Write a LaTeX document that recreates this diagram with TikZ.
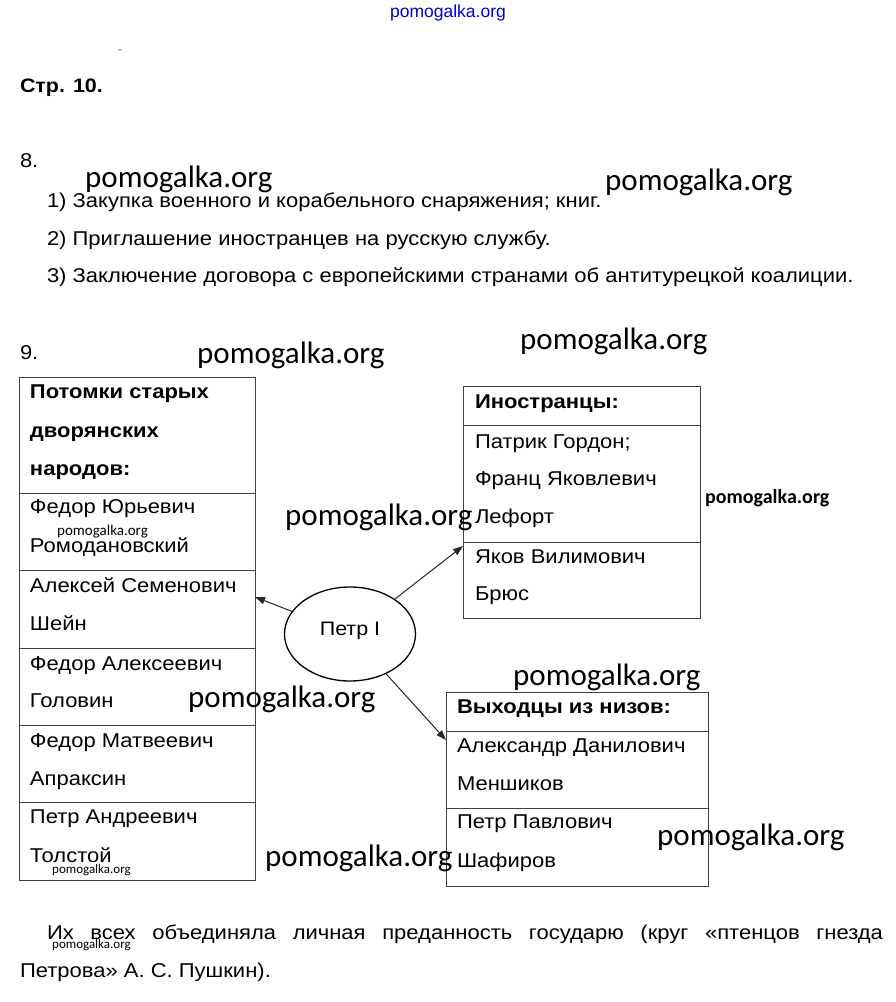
\documentclass[tikz,border=0pt]{standalone}
\usepackage{fontspec}
\setmainfont{Liberation Sans}[FakeStretch=1.1]
\newfontfamily\wmfont{Carlito}
\newfontfamily\topfont{Liberation Sans}
\usetikzlibrary{arrows.meta,shapes.geometric}
\begin{document}
\begin{tikzpicture}[x=1pt,y=-1pt,
  txt/.style={anchor=base west, inner sep=0pt, outer sep=0pt, font=\fontsize{20}{22}\selectfont},
  boxtxt/.style={anchor=base west, inner sep=0pt, outer sep=0pt, font=\fontsize{20}{22}\selectfont},
  boxhead/.style={boxtxt, font=\fontsize{20}{22}\selectfont\bfseries},
  cell/.style={draw=black!75, line width=0.9pt, inner sep=0pt, outer sep=0pt, anchor=north west, fill=none},
  wmbig/.style={anchor=base west, inner sep=0pt, font=\wmfont\fontsize{31}{33}\selectfont},
  wmsmall/.style={anchor=base west, inner sep=0pt, font=\wmfont\fontsize{15}{17}\selectfont},
  arr/.style={-{Triangle[length=10pt,width=7pt]}, line width=1pt, black!85},
]
\fill[white] (0,0) rectangle (895,1002);
\useasboundingbox (0,0) rectangle (895,1002);

% header
\node[anchor=base, inner sep=0pt, text=blue!80!black, font=\topfont\fontsize{17.5}{19}\selectfont] (wmtop) at (448,17) {pomogalka.org};
\node[anchor=base, inner sep=0pt, text=black!60, font=\fontsize{12}{14}\selectfont] (dash) at (120,53) {-};
\node[txt, font=\fontsize{19.5}{21}\selectfont\bfseries] (page) at (20,92) {Стр. 10.};

% task 8
\node[txt] (n8) at (20,167) {8.};
\node[txt] (l1) at (47,207) {1) Закупка военного и корабельного снаряжения; книг.};
\node[txt] (l2) at (47,245) {2) Приглашение иностранцев на русскую службу.};
\node[txt] (l3) at (47,282) {3) Заключение договора с европейскими странами об антитурецкой коалиции.};

% task 9
\node[txt] (n9) at (20,359) {9.};

% left box
\node[cell, minimum width=236pt, minimum height=116pt] (L0) at (19,377) {};
\node[cell, minimum width=236pt, minimum height=77pt] (L1) at (19,493) {};
\node[cell, minimum width=236pt, minimum height=78pt] (L2) at (19,570) {};
\node[cell, minimum width=236pt, minimum height=77pt] (L3) at (19,648) {};
\node[cell, minimum width=236pt, minimum height=77pt] (L4) at (19,725) {};
\node[cell, minimum width=236pt, minimum height=78pt] (L5) at (19,802) {};

\node[boxhead] (L0a) at (30,398) {Потомки старых};
\node[boxhead] (L0b) at (30,437) {дворянских};
\node[boxhead] (L0c) at (30,475) {народов:};
\node[boxtxt] (L1a) at (30,513) {Федор Юрьевич};
\node[boxtxt] (L1b) at (30,552) {Ромодановский};
\node[boxtxt] (L2a) at (30,592) {Алексей Семенович};
\node[boxtxt] (L2b) at (30,630) {Шейн};
\node[boxtxt] (L3a) at (30,670) {Федор Алексеевич};
\node[boxtxt] (L3b) at (30,707) {Головин};
\node[boxtxt] (L4a) at (30,747) {Федор Матвеевич};
\node[boxtxt] (L4b) at (30,785) {Апраксин};
\node[boxtxt] (L5a) at (30,823) {Петр Андреевич};
\node[boxtxt] (L5b) at (30,862) {Толстой};

% right box: foreigners
\node[cell, minimum width=237pt, minimum height=39pt] (R0) at (463,386) {};
\node[cell, minimum width=237pt, minimum height=117pt] (R1) at (463,425) {};
\node[cell, minimum width=237pt, minimum height=76pt] (R2) at (463,542) {};
\node[boxhead] (R0a) at (475,408) {Иностранцы:};
\node[boxtxt] (R1a) at (475,448) {Патрик Гордон;};
\node[boxtxt] (R1b) at (475,485) {Франц Яковлевич};
\node[boxtxt] (R1c) at (475,523) {Лефорт};
\node[boxtxt] (R2a) at (475,563) {Яков Вилимович};
\node[boxtxt] (R2b) at (475,600) {Брюс};

% right box: commoners
\node[cell, minimum width=262pt, minimum height=39pt] (D0) at (446,692) {};
\node[cell, minimum width=262pt, minimum height=77pt] (D1) at (446,731) {};
\node[cell, minimum width=262pt, minimum height=78pt] (D2) at (446,808) {};
\node[boxhead] (D0a) at (457,713) {Выходцы из низов:};
\node[boxtxt] (D1a) at (457,752) {Александр Данилович};
\node[boxtxt] (D1b) at (457,790) {Меншиков};
\node[boxtxt] (D2a) at (457,828) {Петр Павлович};
\node[boxtxt] (D2b) at (457,867) {Шафиров};

% Peter
\node[draw, ellipse, line width=1.3pt, minimum width=131pt, minimum height=94pt, inner sep=0pt] (peter) at (350,634) {};
\node[anchor=base, inner sep=0pt, font=\fontsize{19.5}{21}\selectfont] (peterlbl) at (350,635) {Петр I};

\coordinate (tL) at (255,597);
\coordinate (tR) at (463,546);
\coordinate (tD) at (446,740);
\draw[arr] (peter) -- (tL);
\draw[arr] (peter) -- (tR);
\draw[arr] (peter) -- (tD);

% conclusion
\node[txt] (c1) at (47,939) {\makebox[836pt][s]{Их всех объединяла личная преданность государю (круг «птенцов гнезда}};
\node[txt] (c2) at (20,977) {Петрова» А. С. Пушкин).};

% watermarks
\node[wmbig] (w1) at (85,187) {pomogalka.org};
\node[wmbig] (w2) at (605,190) {pomogalka.org};
\node[wmbig] (w3) at (197,363) {pomogalka.org};
\node[wmbig] (w4) at (520,349) {pomogalka.org};
\node[wmbig] (w5) at (285,525) {pomogalka.org};
\node[wmbig] (w6) at (188,707) {pomogalka.org};
\node[wmbig] (w7) at (513,685) {pomogalka.org};
\node[wmbig] (w8) at (265,866) {pomogalka.org};
\node[wmbig] (w9) at (657,845) {pomogalka.org};
\node[wmsmall, font=\wmfont\fontsize{20}{22}\selectfont\bfseries] (w10) at (705,503) {pomogalka.org};
\node[wmsmall] (w11) at (57,535) {pomogalka.org};
\node[wmsmall, font=\wmfont\fontsize{13}{15}\selectfont] (w12) at (52,873) {pomogalka.org};
\node[wmsmall, font=\wmfont\fontsize{13}{15}\selectfont] (w13) at (52,948) {pomogalka.org};
\end{tikzpicture}
\end{document}
